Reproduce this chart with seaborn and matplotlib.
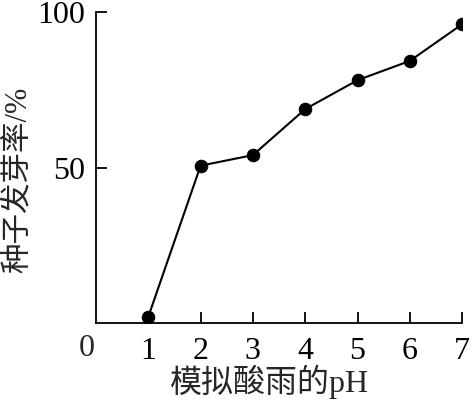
import numpy as np
import pandas as pd
import matplotlib
matplotlib.use("Agg")
import matplotlib.pyplot as plt
import seaborn as sns

# data
ph = [1, 2, 3, 4, 5, 6, 7]
germination = [2, 50.6, 54, 68.8, 78.1, 84.3, 96.1]
x_ticks = [1, 2, 3, 4, 5, 6, 7]
y_ticks = [50, 100]

sns.set_style("ticks")
plt.rcParams['font.family'] = ['Liberation Serif', 'Noto Sans CJK SC', 'DejaVu Sans']

df = pd.DataFrame({"ph": ph, "rate": germination})

fig = plt.figure(figsize=(4.74, 4.03), dpi=100)
ax = fig.add_axes([0.2025, 0.1985, 0.7725, 0.7715])
sns.lineplot(data=df, x="ph", y="rate", ax=ax, color="black", linewidth=1.5,
             marker="o", markersize=9, markeredgecolor="black", markerfacecolor="black")

ax.set_xlim(0, 7)
ax.set_ylim(0, 100)
ax.set_xticks(x_ticks)
ax.set_yticks(y_ticks)
ax.tick_params(direction="in", length=8, width=1.3, labelsize=23, pad=8, colors="black")
ax.tick_params(axis="x", pad=10)
for s in ["top", "right"]:
    ax.spines[s].set_visible(False)
for s in ["left", "bottom"]:
    ax.spines[s].set_linewidth(1.3)
    ax.spines[s].set_color("black")
    ax.spines[s].set_clip_on(False)

# the lone "0" at the corner
ax.text(-0.02, -3.5, "0", fontsize=23, ha="right", va="top", transform=ax.transData)
ax.set_xlabel("模拟酸雨的pH", fontsize=23, labelpad=0)
ax.set_ylabel("种子发芽率/%", fontsize=22, labelpad=8)
ax.xaxis.set_label_coords(0.475, -0.135)
ax.yaxis.set_label_coords(-0.172, 0.46)

fig.savefig("out.png", dpi=100)
